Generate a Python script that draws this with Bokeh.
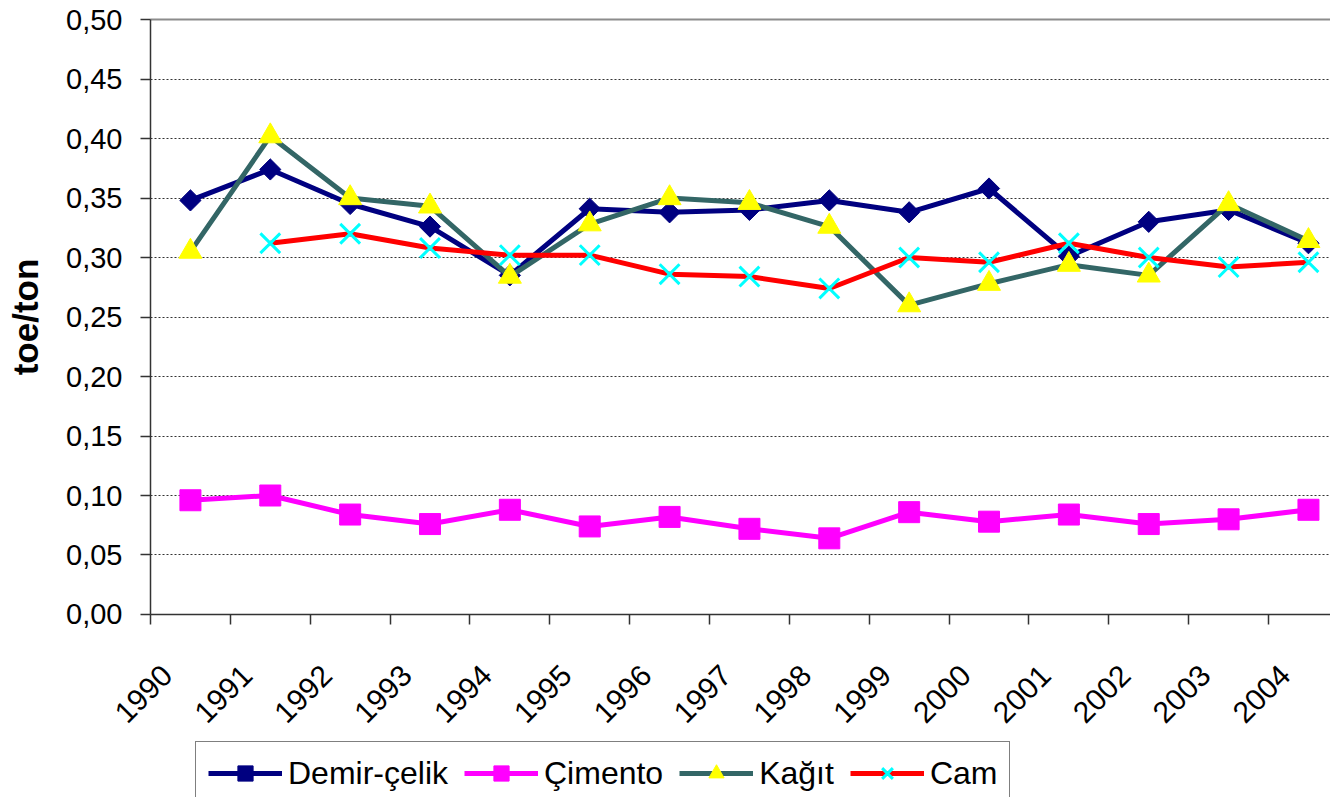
import math
from bokeh.plotting import figure
from bokeh.models import (Range1d, FixedTicker, CustomJSTickFormatter, Legend, LegendItem, Grid)
from bokeh.embed import file_html
from bokeh.resources import INLINE

years = ["1990", "1991", "1992", "1993", "1994", "1995", "1996", "1997",
         "1998", "1999", "2000", "2001", "2002", "2003", "2004"]
demir_celik = [0.348, 0.374, 0.345, 0.326, 0.285, 0.341, 0.338, 0.340,
               0.348, 0.338, 0.358, 0.301, 0.330, 0.340, 0.312]
cimento = [0.096, 0.100, 0.084, 0.076, 0.088, 0.074, 0.082, 0.072,
           0.064, 0.086, 0.078, 0.084, 0.076, 0.080, 0.088]
kagit = [0.305, 0.402, 0.350, 0.343, 0.284, 0.328, 0.350, 0.346,
         0.326, 0.260, 0.278, 0.294, 0.285, 0.345, 0.314]
cam = [float("nan"), 0.312, 0.320, 0.308, 0.302, 0.302, 0.286, 0.284,
       0.274, 0.300, 0.296, 0.312, 0.300, 0.292, 0.296]
y_ticks = [0.0, 0.05, 0.10, 0.15, 0.20, 0.25, 0.30, 0.35, 0.40, 0.45, 0.50]

FONT = "Liberation Sans"
LABEL_SHIFT = 0.21
x = [i + 0.5 for i in range(len(years))]
label_pos = [i + LABEL_SHIFT for i in range(len(years))]

p = figure(width=1330, height=797, output_backend="svg", toolbar_location=None,
           x_range=Range1d(-1.8783, 14.776), y_range=Range1d(-0.1538, 0.516),
           min_border_left=0, min_border_right=0, min_border_top=0,
           min_border_bottom=0)
p.outline_line_color = None
p.background_fill_color = "white"
p.border_fill_color = "white"

# x axis, drawn at y = 0
xa = p.xaxis[0]
xa.fixed_location = 0
xa.bounds = (0, 15)
xa.ticker = FixedTicker(ticks=label_pos, minor_ticks=list(range(len(years))))
xa.formatter = CustomJSTickFormatter(args=dict(years=years, shift=LABEL_SHIFT),
                                     code="return years[Math.round(tick - shift)]")
xa.major_label_orientation = math.pi / 4
xa.major_tick_line_color = None
xa.minor_tick_out = 10
xa.minor_tick_in = 0
xa.minor_tick_line_color = "#333333"
xa.minor_tick_line_width = 1.5
xa.axis_line_color = "#333333"
xa.axis_line_width = 1.5
xa.major_label_text_font = FONT
xa.major_label_text_font_size = "30px"
xa.major_label_text_color = "black"
xa.major_label_standoff = 46

# y axis, drawn at x = 0
ya = p.yaxis[0]
ya.fixed_location = 0
ya.bounds = (0, 0.5)
ya.ticker = FixedTicker(ticks=y_ticks, minor_ticks=[])
ya.formatter = CustomJSTickFormatter(code="return tick.toFixed(2).replace('.', ',')")
ya.major_tick_out = 10
ya.major_tick_in = 0
ya.major_tick_line_color = "#333333"
ya.major_tick_line_width = 1.5
ya.axis_line_color = "#333333"
ya.axis_line_width = 1.5
ya.major_label_text_font = FONT
ya.major_label_text_font_size = "29px"
ya.major_label_text_color = "black"
ya.major_label_standoff = 18
ya.axis_label = "toe/ton"
ya.axis_label_text_font = FONT
ya.axis_label_text_font_size = "35px"
ya.axis_label_text_font_style = "bold"
ya.axis_label_text_color = "black"
ya.axis_label_standoff = 18

p.xgrid.grid_line_color = None
p.ygrid.ticker = FixedTicker(ticks=y_ticks[:-1])
p.ygrid.cross_bounds = (0, 15)
p.ygrid.grid_line_color = "#333333"
p.ygrid.grid_line_width = 1
p.ygrid.grid_line_dash = "2 2"

top_line = Grid(dimension=1, ticker=FixedTicker(ticks=[y_ticks[-1]]), cross_bounds=(0, 15),
                grid_line_color="#8c8c8c", grid_line_width=2)
p.add_layout(top_line)

lw = 5
r1l = p.line(x, demir_celik, line_color="#000080", line_width=lw)
r1m = p.scatter(x, demir_celik, marker="square", size=15, angle=math.pi / 4,
                fill_color="#000080", line_color="#000080")
r3l = p.line(x, kagit, line_color="#336666", line_width=lw)
r3m = p.scatter(x, kagit, marker="triangle", size=23,
                fill_color="#FFFF00", line_color="#FFFF00")
r4l = p.line(x, cam, line_color="#FF0000", line_width=lw)
r4m = p.scatter(x, cam, marker="x", size=28, line_color="#00FFFF", line_width=3)
r2l = p.line(x, cimento, line_color="#FF00FF", line_width=lw)
r2m = p.scatter(x, cimento, marker="square", size=21,
                fill_color="#FF00FF", line_color="#FF00FF")

legend = Legend(items=[
    LegendItem(label="Demir-çelik", renderers=[r1l, r1m]),
    LegendItem(label="Çimento", renderers=[r2l, r2m]),
    LegendItem(label="Kağıt", renderers=[r3l, r3m]),
    LegendItem(label="Cam", renderers=[r4l, r4m]),
], orientation="horizontal", location=(195, -8))
legend.label_text_font = FONT
legend.label_text_font_size = "32px"
legend.label_text_color = "black"
legend.glyph_width = 74
legend.glyph_height = 38
legend.label_height = 38
legend.label_standoff = 6
legend.spacing = 16
legend.padding = 12
legend.margin = 0
legend.border_line_color = "black"
legend.border_line_width = 1
legend.background_fill_color = "white"
legend.background_fill_alpha = 1
p.add_layout(legend, "center")

open("out.html", "w").write(file_html(p, INLINE))
